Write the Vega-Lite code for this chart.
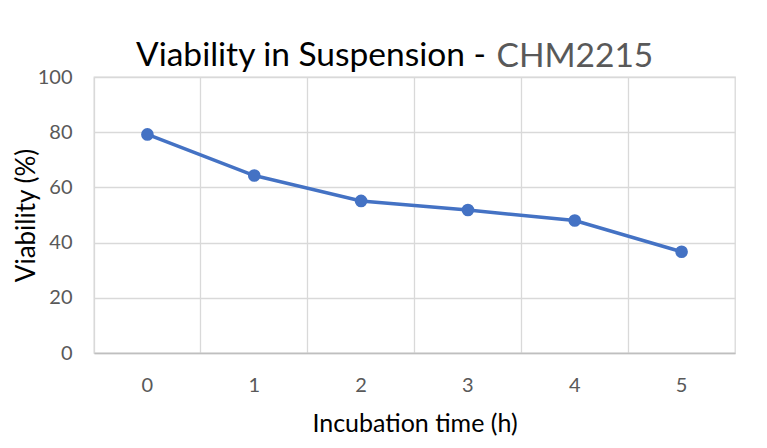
{
  "$schema": "https://vega.github.io/schema/vega-lite/v6.json",
  "width": 641,
  "height": 276,
  "autosize": {"type": "none"},
  "padding": {"left": 94, "top": 77, "right": 32, "bottom": 95},
  "background": "white",
  "config": {
    "font": "Lato",
    "view": {"stroke": "#d9d9d9", "strokeWidth": 1.3}
  },
  "title": {
    "text": "Viability in Suspension -",
    "color": "#000000",
    "font": "Lato",
    "fontSize": 33.5,
    "fontWeight": "normal",
    "anchor": "start",
    "frame": "group",
    "dx": 42,
    "offset": -33.5
  },
  "data": {
    "values": [
      {"time": "0", "viability": 79.2},
      {"time": "1", "viability": 64.3},
      {"time": "2", "viability": 55.1},
      {"time": "3", "viability": 51.8},
      {"time": "4", "viability": 48.0},
      {"time": "5", "viability": 36.7}
    ]
  },
  "layer": [
    {
      "mark": {"type": "line", "color": "#4472c4", "strokeWidth": 3.5},
      "encoding": {
        "x": {
          "field": "time",
          "type": "ordinal",
          "scale": {"type": "band", "paddingInner": 0, "paddingOuter": 0},
          "axis": {
            "orient": "bottom",
            "title": "Incubation time (h)",
            "titleFont": "Lato",
            "titleFontSize": 25,
            "titleFontWeight": "normal",
            "titleColor": "#000000",
            "titlePadding": 16.5,
            "labelFont": "Lato",
            "labelFontSize": 20,
            "labelColor": "#595959",
            "labelAngle": 0,
            "labelPadding": 22,
            "ticks": false,
            "tickSize": 0,
            "grid": false,
            "domain": true,
            "domainColor": "#bfbfbf",
            "domainWidth": 1.3
          }
        },
        "y": {
          "field": "viability",
          "type": "quantitative",
          "scale": {"domain": [0, 100]},
          "axis": {
            "values": [0, 20, 40, 60, 80, 100],
            "title": "Viability (%)",
            "titleFont": "Lato",
            "titleFontSize": 26,
            "titleFontWeight": "normal",
            "titleColor": "#000000",
            "titlePadding": -2,
            "labelFont": "Lato",
            "labelFontSize": 20,
            "labelColor": "#595959",
            "labelPadding": 22,
            "ticks": false,
            "tickSize": 0,
            "domain": false,
            "grid": true,
            "gridColor": "#d9d9d9",
            "gridWidth": 1.3
          }
        }
      }
    },
    {
      "mark": {"type": "point", "filled": true, "size": 160, "color": "#4472c4", "opacity": 1},
      "encoding": {
        "x": {
          "field": "time",
          "type": "ordinal",
          "axis": {
            "orient": "top",
            "bandPosition": 0,
            "grid": true,
            "gridColor": "#d9d9d9",
            "gridWidth": 1.3,
            "labels": false,
            "ticks": false,
            "tickSize": 0,
            "domain": false,
            "title": "CHM2215",
            "titleColor": "#595959",
            "titleFont": "Lato",
            "titleFontSize": 33.5,
            "titleFontWeight": "normal",
            "titleX": 402,
            "titleY": -10.3,
            "titleAlign": "left",
            "titleBaseline": "alphabetic",
            "titleAngle": 0
          }
        },
        "y": {"field": "viability", "type": "quantitative"}
      }
    }
  ],
  "resolve": {"axis": {"x": "independent"}}
}
